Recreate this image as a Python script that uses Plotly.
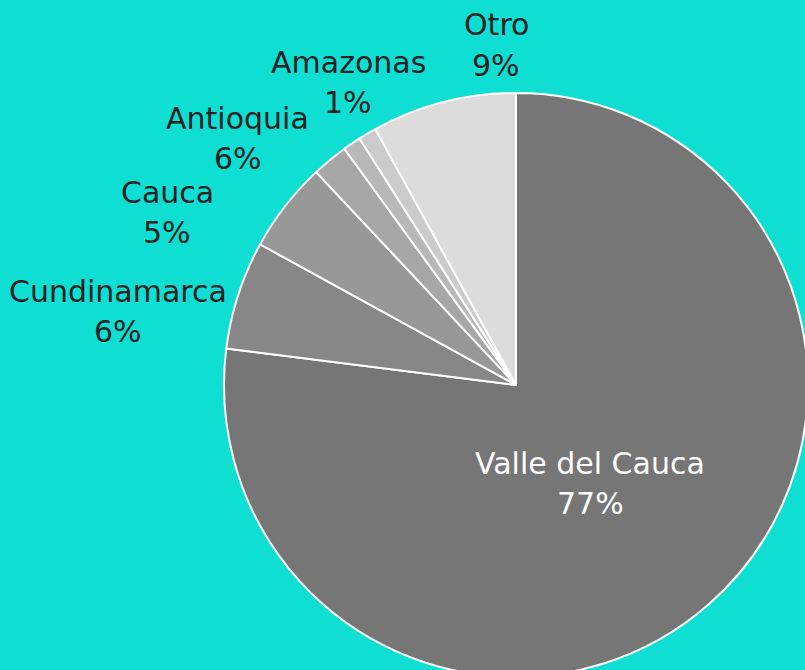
import plotly.graph_objects as go

# Data
slice_names = ["Valle del Cauca", "Cundinamarca", "Cauca", "Antioquia",
               "Otro departamento", "Amazonas", "Otro"]
slice_values = [77, 6, 5, 2, 1, 1, 8]
slice_colors = ["#767676", "#878787", "#989898", "#a7a7a7",
                "#b8b8b8", "#cbcbcb", "#dcdcdc"]

label_names = ["Valle del Cauca", "Cundinamarca", "Cauca", "Antioquia", "Amazonas", "Otro"]
label_pcts = ["77%", "6%", "5%", "6%", "1%", "9%"]
label_colors = ["#ffffff", "#222222", "#222222", "#222222", "#222222", "#222222"]
# label centres in pixels (name line), percentage line is 40 px lower
label_px = [(590, 463), (118, 291), (167, 192), (238, 118), (348, 62), (496, 25)]

W, H = 815, 680
cx, cy, r = 516, 385, 292

fig = go.Figure(go.Pie(
    labels=slice_names,
    values=slice_values,
    sort=False,
    direction="clockwise",
    rotation=0,
    marker=dict(colors=slice_colors, line=dict(color="#ffffff", width=2)),
    textinfo="none",
    hoverinfo="label+percent",
    showlegend=False,
    domain=dict(x=[(cx - r) / W, (cx + r) / W], y=[(H - cy - r) / H, (H - cy + r) / H]),
))

anns = []
for name, pct, col, (x, y) in zip(label_names, label_pcts, label_colors, label_px):
    for txt, yy in ((name, y), (pct, y + 40)):
        anns.append(dict(text=txt, x=x / W, y=1 - yy / H, xref="paper", yref="paper",
                         xanchor="center", yanchor="middle", showarrow=False,
                         font=dict(family="DejaVu Sans", size=30, color=col)))

fig.update_layout(
    width=W, height=H, autosize=False,
    margin=dict(l=0, r=0, t=0, b=0),
    paper_bgcolor="#0fded3", plot_bgcolor="#0fded3",
    annotations=anns,
)

fig.write_html("out.html", config={"displayModeBar": False},
               post_script="document.documentElement.style.overflow='hidden';document.body.style.overflow='hidden';document.body.style.margin='0';")
